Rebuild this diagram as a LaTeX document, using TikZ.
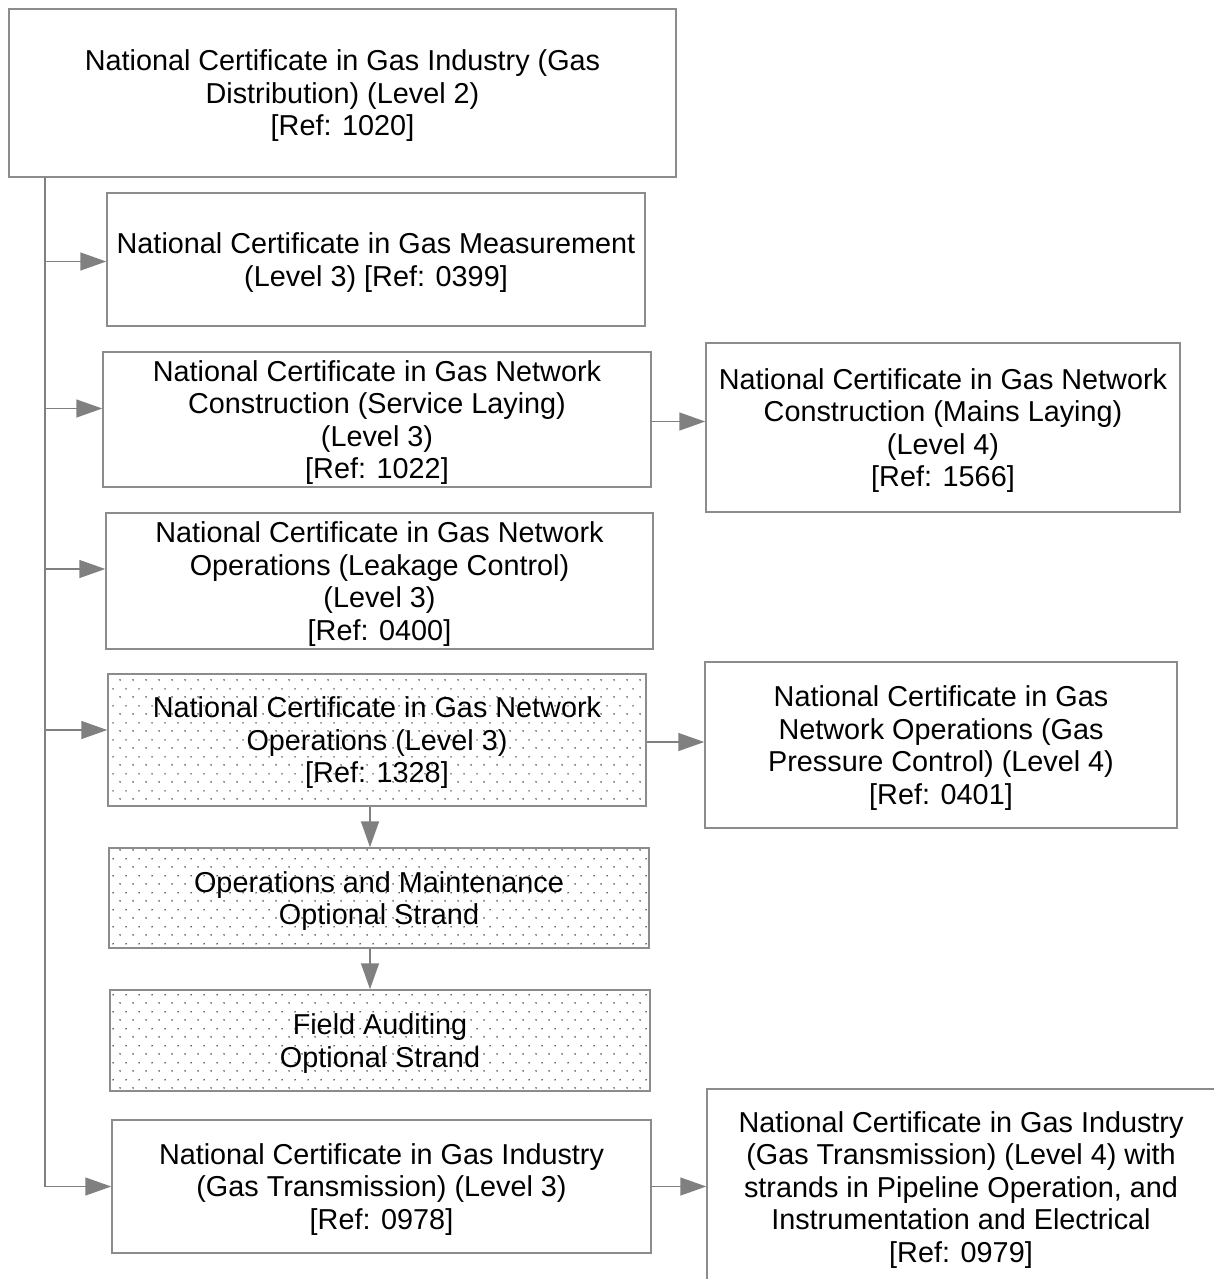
\documentclass[tikz,border=0pt]{standalone}
\usepackage{fontspec}
\setmainfont{Liberation Sans}
\usetikzlibrary{arrows.meta, positioning, patterns.meta}
\definecolor{edgegray}{RGB}{140,140,140}
\definecolor{arrowgray}{RGB}{128,128,128}
\tikzdeclarepattern{
    name=sparsedots,
    type=uncolored,
    bounding box={(0pt,0pt) and (13pt,17pt)},
    tile size={(13pt,17pt)},
    code={
        \fill (3.25pt,4.25pt) circle (0.85pt);
        \fill (9.75pt,12.75pt) circle (0.85pt);
    }
}
\tikzset{
    block/.style={rectangle, draw=edgegray, line width=1.5pt, fill=white, align=center, inner sep=0pt, text depth=0pt, font=\fontsize{28.8}{32.5}\selectfont},
    strand/.style={block, pattern={sparsedots}, pattern color=black!85},
    arrow/.style={draw=arrowgray, line width=1.5pt, -{Triangle[length=26pt, width=18pt]}, arrowgray}
}

\begin{document}
\begin{tikzpicture}[x=1pt, y=-1pt]
    \useasboundingbox (0,0) rectangle (1213,1279);

    \node (dist) [block, minimum width=667pt, minimum height=168pt] at (342.5,93) {National Certificate in Gas Industry (Gas\\Distribution) (Level 2)\\{[Ref: 1020]}};
    \node (meas) [block, minimum width=538pt, minimum height=133pt] at (376,259.5) {National Certificate in Gas Measurement\\(Level 3) [Ref: 0399]};
    \node (service) [block, minimum width=548pt, minimum height=135pt] at (377,419.5) {National Certificate in Gas Network\\Construction (Service Laying)\\(Level 3)\\{[Ref: 1022]}};
    \node (mains) [block, minimum width=474pt, minimum height=169pt] at (943,427.5) {National Certificate in Gas Network\\Construction (Mains Laying)\\(Level 4)\\{[Ref: 1566]}};
    \node (leak) [block, minimum width=547pt, minimum height=136pt] at (379.5,581) {National Certificate in Gas Network\\Operations (Leakage Control)\\(Level 3)\\{[Ref: 0400]}};
    \node (ops) [strand, minimum width=538pt, minimum height=132pt] at (377,740) {National Certificate in Gas Network\\Operations (Level 3)\\{[Ref: 1328]}};
    \node (pressure) [block, minimum width=472pt, minimum height=166pt] at (941,745) {National Certificate in Gas\\Network Operations (Gas\\Pressure Control) (Level 4)\\{[Ref: 0401]}};
    \node (maint) [strand, minimum width=540pt, minimum height=100pt] at (379,898) {Operations and Maintenance\\Optional Strand};
    \node (audit) [strand, minimum width=540pt, minimum height=101pt] at (380,1040.5) {Field Auditing\\Optional Strand};
    \node (trans3) [block, minimum width=539pt, minimum height=133pt] at (381.5,1186.5) {National Certificate in Gas Industry\\(Gas Transmission) (Level 3)\\{[Ref: 0978]}};
    \node (trans4) [block, minimum width=508pt, minimum height=196pt] at (961,1187) {National Certificate in Gas Industry\\(Gas Transmission) (Level 4) with\\strands in Pipeline Operation, and\\Instrumentation and Electrical\\{[Ref: 0979]}};

    % entry points on the left side of the level 3 boxes
    \coordinate (measin) at ([yshift=-2pt]meas.west);
    \coordinate (servicein) at ([yshift=11pt]service.west);
    \coordinate (leakin) at ([yshift=12pt]leak.west);
    \coordinate (opsin) at ([yshift=10pt]ops.west);

    % trunk from the level 2 certificate
    \coordinate (trunk) at (45,177);
    \draw [arrow] (trunk) |- (trans3.west);
    \draw [arrow] (trunk |- measin) -- (measin);
    \draw [arrow] (trunk |- servicein) -- (servicein);
    \draw [arrow] (trunk |- leakin) -- (leakin);
    \draw [arrow] (trunk |- opsin) -- (opsin);

    \draw [arrow] ([yshift=-2pt]service.east) -- ([yshift=-2pt]service.east -| mains.west);
    \draw [arrow] ([yshift=-2pt]ops.east) -- ([yshift=-2pt]ops.east -| pressure.west);
    \draw [arrow] (trans3.east) -- (trans3.east -| trans4.west);

    \draw [arrow] ([xshift=-7pt]ops.south) -- ([xshift=-7pt]ops.south |- maint.north);
    \draw [arrow] ([xshift=-9pt]maint.south) -- ([xshift=-9pt]maint.south |- audit.north);
\end{tikzpicture}
\end{document}
